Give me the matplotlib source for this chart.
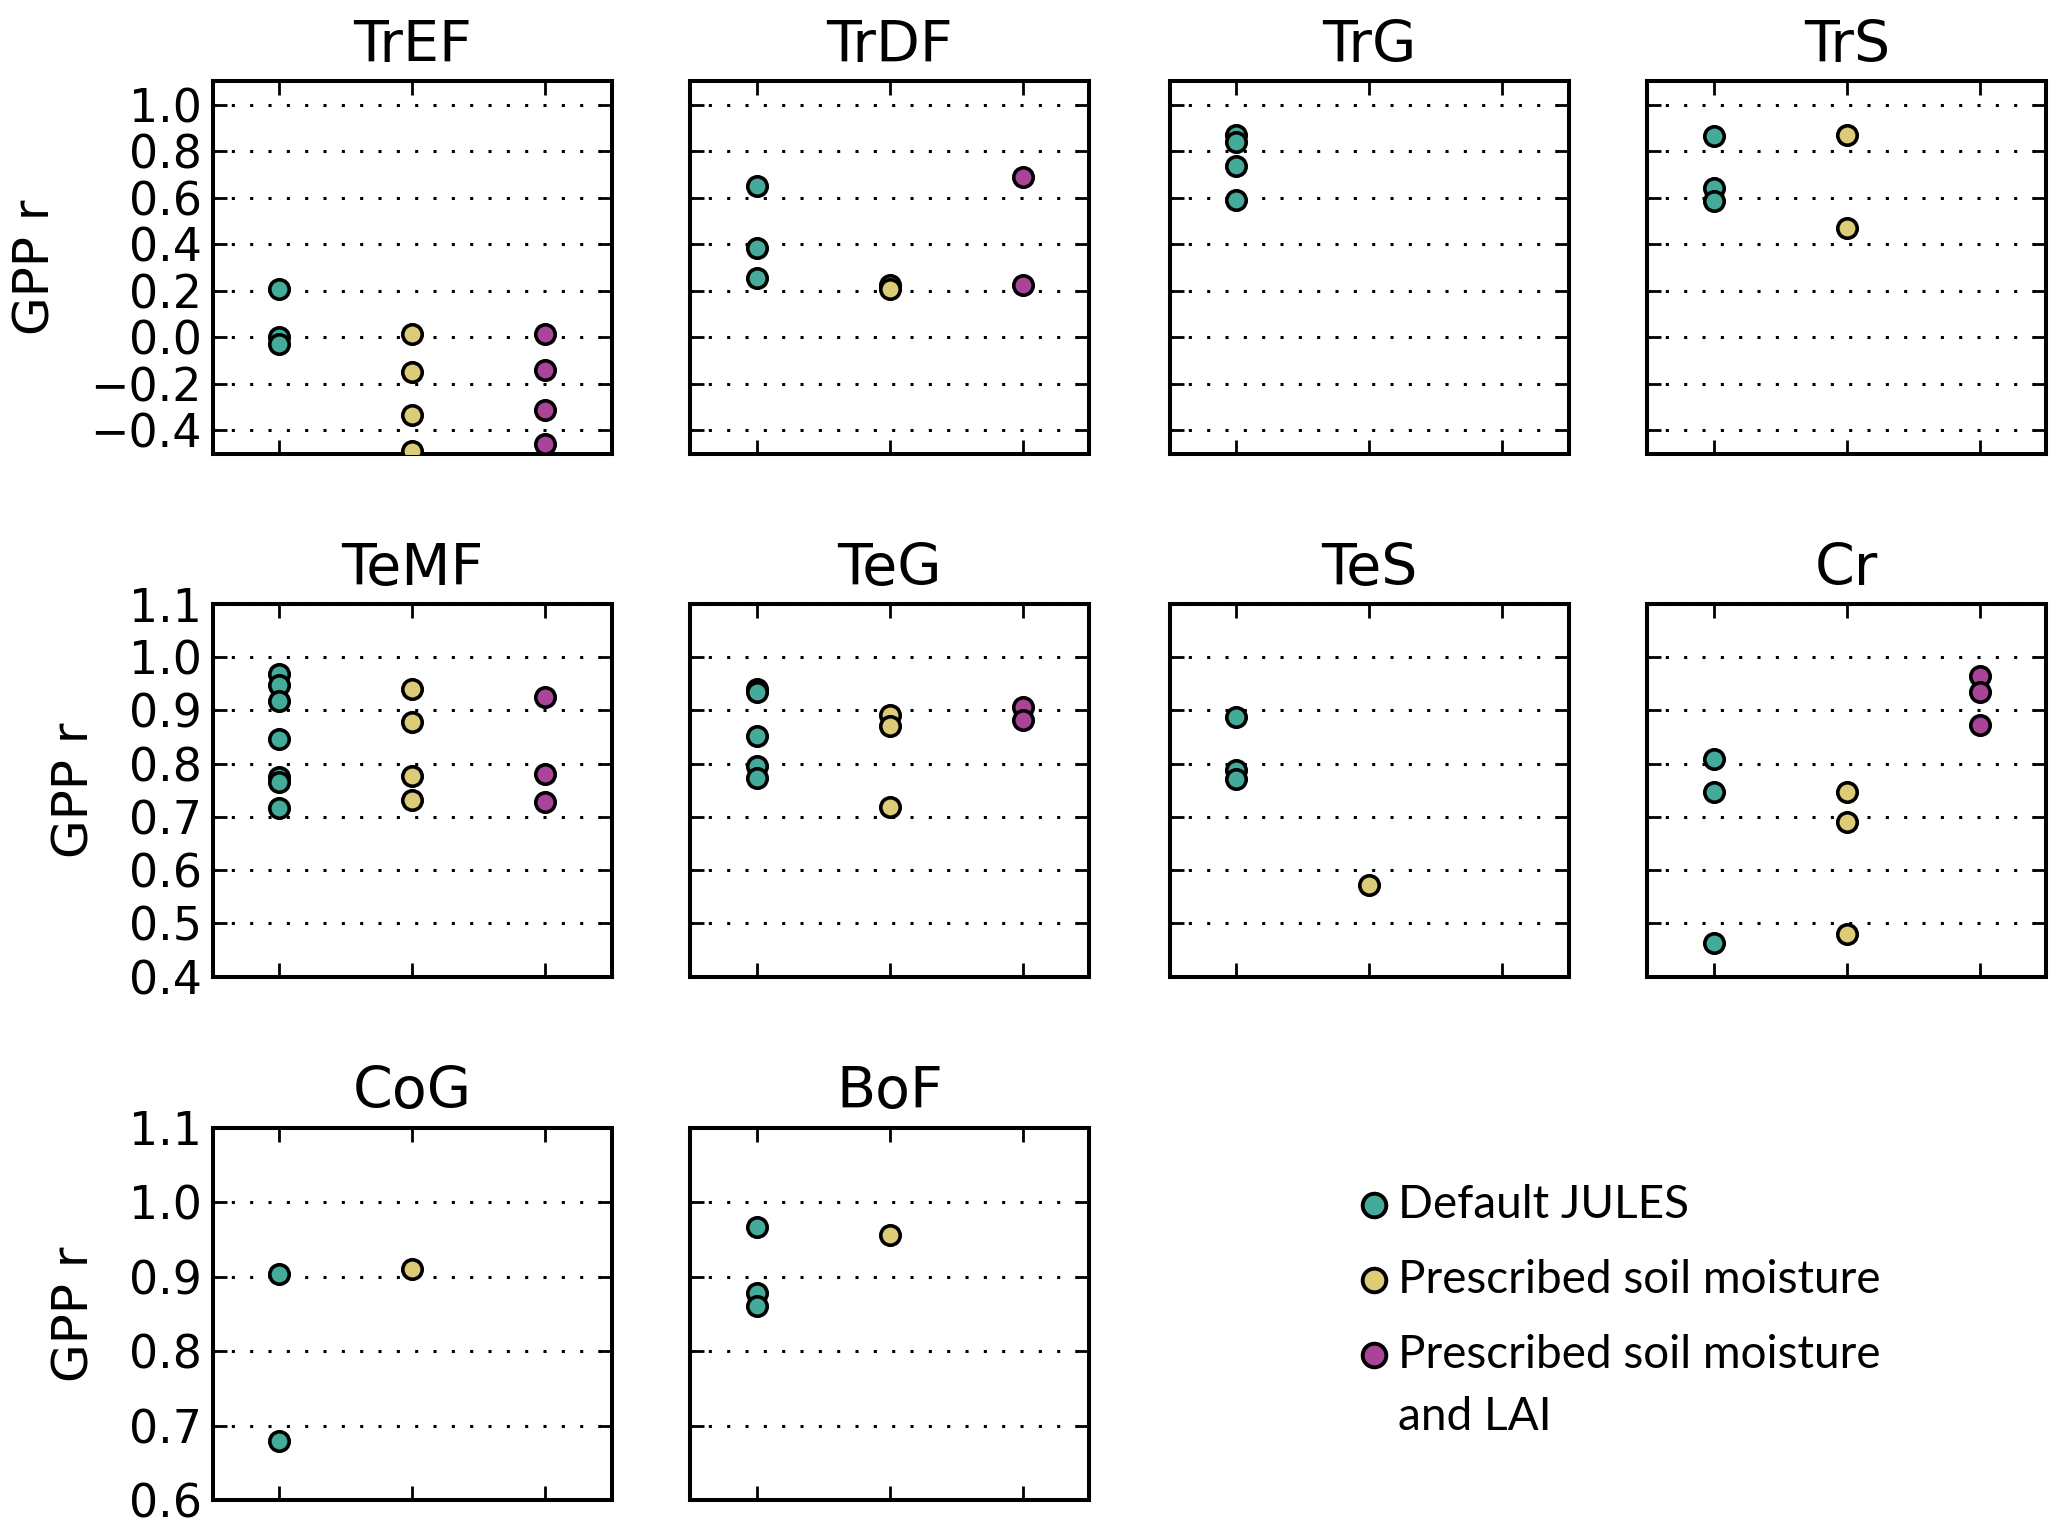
import matplotlib
matplotlib.use("Agg")
import matplotlib.pyplot as plt
from matplotlib.lines import Line2D

# ---------------- data ----------------
panel_names = ["TrEF", "TrDF", "TrG", "TrS", "TeMF", "TeG", "TeS", "Cr", "CoG", "BoF"]
series_labels = ["Default JULES", "Prescribed soil moisture",
                 "Prescribed soil moisture\nand LAI"]
series_colors = ["#44AA99", "#DDCC77", "#AA4499"]

default_jules = [
    [0.209, 0.0, -0.03],
    [0.649, 0.384, 0.256],
    [0.867, 0.838, 0.736, 0.59],
    [0.863, 0.641, 0.587],
    [0.968, 0.947, 0.918, 0.847, 0.775, 0.766, 0.716],
    [0.94, 0.935, 0.852, 0.795, 0.773],
    [0.888, 0.788, 0.772],
    [0.808, 0.746, 0.463],
    [0.903, 0.679],
    [0.967, 0.878, 0.861],
]
prescribed_sm = [
    [0.013, -0.149, -0.333, -0.49],
    [0.223, 0.206],
    [],
    [0.87, 0.47],
    [0.94, 0.879, 0.776, 0.731],
    [0.891, 0.871, 0.718],
    [0.572],
    [0.746, 0.690, 0.479],
    [0.910],
    [0.956],
]
prescribed_sm_lai = [
    [0.013, -0.139, -0.314, -0.46],
    [0.687, 0.224],
    [],
    [],
    [0.926, 0.781, 0.728],
    [0.907, 0.882],
    [],
    [0.964, 0.935, 0.873],
    [],
    [],
]
x_positions = [1, 2, 3]

row_ylims = [(-0.5, 1.1), (0.4, 1.1), (0.6, 1.1)]
row_yticks = [[-0.4, -0.2, 0.0, 0.2, 0.4, 0.6, 0.8, 1.0],
              [0.4, 0.5, 0.6, 0.7, 0.8, 0.9, 1.0, 1.1],
              [0.6, 0.7, 0.8, 0.9, 1.0, 1.1]]
ylabel_text = "GPP r"

# ---------------- layout ----------------
W, H = 2067, 1533
fig = plt.figure(figsize=(W / 100, H / 100), dpi=100)
plt.rcParams["font.family"] = ["DejaVu Sans"]

col_left = [0.103, 0.334, 0.566, 0.797]
ax_w = 0.193
row_bottom = [0.704, 0.363, 0.0215]
ax_h = 0.243

all_series = [default_jules, prescribed_sm, prescribed_sm_lai]

for i, name in enumerate(panel_names):
    r, c = divmod(i, 4)
    ax = fig.add_axes([col_left[c], row_bottom[r], ax_w, ax_h])
    for s, series in enumerate(all_series):
        vals = series[i]
        if len(vals):
            ax.plot([x_positions[s]] * len(vals), vals, linestyle="none",
                    marker="o", ms=14, mew=2.6, mfc=series_colors[s],
                    mec="black", zorder=3)
    ax.set_xlim(0.5, 3.5)
    ax.set_ylim(*row_ylims[r])
    ax.set_xticks(x_positions)
    ax.set_yticks(row_yticks[r])
    ax.tick_params(axis="both", direction="in", length=10, width=2.0,
                   top=True, right=True, labelbottom=False,
                   labelsize=33, pad=8)
    ax.yaxis.grid(True, linestyle=(0, (1, 5)), color="black", linewidth=2.2)
    ax.set_axisbelow(True)
    for sp in ax.spines.values():
        sp.set_linewidth(2.9)
    ax.set_title(name, fontsize=41, pad=14)
    if c == 0:
        ax.set_ylabel(ylabel_text, fontsize=36, labelpad=22)
    else:
        ax.tick_params(axis="y", labelleft=False)

# ---------------- legend ----------------
leg_font = ["Lato", "DejaVu Sans"]
mx, tx = 1374 / W, 1398 / W
rows_y = [1 - 1205 / H, 1 - 1280 / H, 1 - 1355 / H]
for k in range(3):
    fig.add_artist(Line2D([mx], [rows_y[k]], transform=fig.transFigure,
                          marker="o", ms=17, mew=2.8,
                          mfc=series_colors[k], mec="black", linestyle="none"))
    lines = series_labels[k].split("\n")
    for j, ln in enumerate(lines):
        fig.text(tx, rows_y[k] - j * (62 / H), ln, fontsize=33,
                 family=leg_font, va="center", ha="left")

fig.savefig("out.png", dpi=100)
